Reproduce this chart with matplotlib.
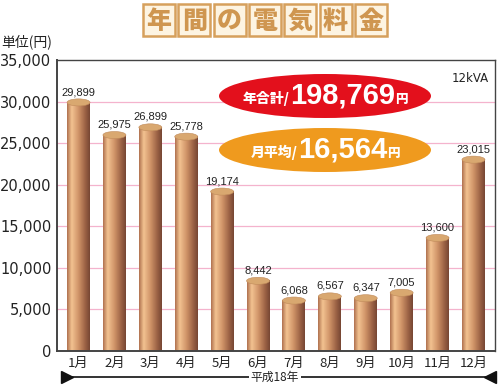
import matplotlib

matplotlib.use("Agg")
import matplotlib.pyplot as plt
import numpy as np
from matplotlib.colors import LinearSegmentedColormap
from matplotlib.patches import Ellipse, Rectangle

plt.rcParams["font.family"] = ["Noto Sans CJK JP", "DejaVu Sans"]

months = ["1月", "2月", "3月", "4月", "5月", "6月", "7月", "8月", "9月", "10月", "11月", "12月"]
charges = [29899, 25975, 26899, 25778, 19174, 8442, 6068, 6567, 6347, 7005, 13600, 23015]
y_ticks = [0, 5000, 10000, 15000, 20000, 25000, 30000, 35000]
title_chars = list("年間の電気料金")
total_label, total_value = "年合計/", "198,769"
avg_label, avg_value = "月平均/", "16,564"

W, H = 500, 385
fig = plt.figure(figsize=(W / 100, H / 100), dpi=100)
ax = fig.add_axes([57 / W, 1 - 351 / H, 438 / W, 291 / H])

cyl = LinearSegmentedColormap.from_list(
    "cyl",
    [(0.0, "#b07250"), (0.2, "#f3c391"), (0.5, "#d09468"), (0.8, "#9c6245"), (1.0, "#774633")],
)
grad = np.linspace(0, 1, 64).reshape(1, -1)
bw = 0.64
cap_h = 850

for y in y_ticks[1:-1]:
    ax.axhline(y, color="#f4b3cd", lw=0.9, zorder=0)

for i, v in enumerate(charges):
    ax.imshow(grad, cmap=cyl, extent=[i - bw / 2, i + bw / 2, 0, v],
              aspect="auto", zorder=2, interpolation="bilinear")
    ax.add_patch(Ellipse((i, v), bw, cap_h, facecolor="#d9a870",
                         edgecolor="#c08a5a", lw=0.4, zorder=3))
    ax.text(i, v + 650, f"{v:,}", ha="center", va="bottom", fontsize=8,
            family="Liberation Sans", color="#222", zorder=4)

ax.set_xlim(-0.6, 11.6)
ax.set_ylim(0, 35000)
ax.set_xticks(range(len(months)))
ax.set_xticklabels(months, fontsize=9.5)
ax.set_yticks(y_ticks)
ax.set_yticklabels([f"{t:,}" for t in y_ticks], fontsize=10.5, family="DejaVu Sans")
ax.tick_params(length=0, pad=4, colors="#222")
for s in ax.spines.values():
    s.set_color("#444")
    s.set_linewidth(1.0)
ax.spines["left"].set_linewidth(1.4)
ax.spines["bottom"].set_linewidth(1.4)

ax.text(0.985, 0.96, "12kVA", transform=ax.transAxes, ha="right", va="top",
        fontsize=8.5, family="DejaVu Sans", color="#222")
fig.text(1 / W, 1 - 42 / H, "単位(円)", fontsize=10, va="center", ha="left", color="#222")

# title boxes
for k, ch in enumerate(title_chars):
    x0 = 143 + k * 35.3
    fig.patches.append(Rectangle((x0 / W, 1 - 36 / H), 32 / W, 32 / H, transform=fig.transFigure,
                                 facecolor="#fdf4e2", edgecolor="#d6a05c", lw=1.8))
    fig.text((x0 + 16) / W, 1 - 21 / H, ch, ha="center", va="center", fontsize=18,
             fontweight="heavy", color="#cf9650")

# badges
renderer = fig.canvas.get_renderer()


def badge(cy, color, label, value):
    fig.patches.append(Ellipse((325 / W, 1 - cy / H), 212 / W, 44 / H,
                               transform=fig.transFigure, facecolor=color, edgecolor="none"))
    t1 = fig.text(0, 1 - (cy + 2) / H, label, fontsize=10, fontweight="heavy", color="white",
                  va="center", ha="left")
    t2 = fig.text(0, 1 - (cy - 1) / H, value, fontsize=21, fontweight="bold", color="white",
                  va="center", ha="left", family="Liberation Sans")
    t3 = fig.text(0, 1 - (cy + 3) / H, "円", fontsize=9, fontweight="heavy", color="white",
                  va="center", ha="left")
    ws = [t.get_window_extent(renderer).width for t in (t1, t2, t3)]
    x = 325 - sum(ws) / 2
    for t, w in zip((t1, t2, t3), ws):
        t.set_x(x / W)
        x += w


badge(96, "#e3101c", total_label, total_value)
badge(150, "#ef9a1e", avg_label, avg_value)

# period arrow
ya = 1 - 377 / H
fig.add_artist(plt.Line2D([65 / W, 492 / W], [ya, ya], transform=fig.transFigure,
                          color="#111", lw=1.2))
fig.add_artist(plt.Line2D([67 / W], [ya], transform=fig.transFigure, marker=">",
                          markersize=9, color="#111", lw=0))
fig.add_artist(plt.Line2D([490 / W], [ya], transform=fig.transFigure, marker="<",
                          markersize=9, color="#111", lw=0))
fig.text(275 / W, ya, "平成18年", ha="center", va="center", fontsize=8.5, color="#222",
         bbox=dict(facecolor="white", edgecolor="none", pad=1.0))

fig.savefig("out.png", dpi=100)
